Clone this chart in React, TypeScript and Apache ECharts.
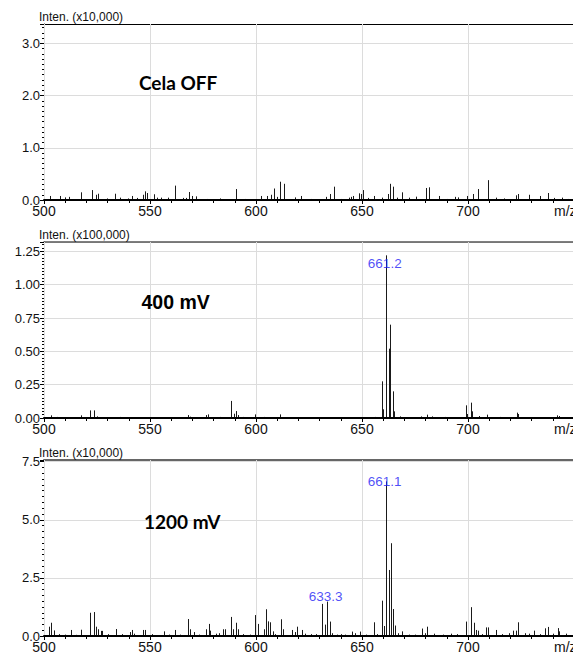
import React, { useEffect, useRef } from "react";
import * as echarts from "echarts";

// m/z range shared by all three spectra
const MZ_MIN = 500;
const MZ_MAX = 750;
const MZ_TICKS = [500, 550, 600, 650, 700];

// Spectrum 1: Cela OFF, intensity in units of 10,000
const celaOffPeaks: [number, number][] = [
  [502.7, 0.077], [507.7, 0.077], [510.1, 0.05], [511.7, 0.06], [517.6, 0.147],
  [522.7, 0.19], [524.7, 0.1], [525.5, 0.12], [529.9, 0.03], [533.7, 0.12],
  [536.0, 0.045], [539.7, 0.03], [541.7, 0.077], [544.0, 0.04], [546.7, 0.1],
  [547.5, 0.166], [548.8, 0.134], [551.9, 0.11], [553.3, 0.045], [555.4, 0.045],
  [558.5, 0.045], [561.7, 0.275], [565.6, 0.04], [567.2, 0.04], [568.6, 0.153],
  [569.6, 0.077], [571.6, 0.07], [577.0, 0.02], [583.0, 0.03], [590.8, 0.21],
  [595.0, 0.02], [602.3, 0.077], [605.0, 0.077], [607.3, 0.1], [608.7, 0.22],
  [610.1, 0.06], [611.5, 0.35], [613.1, 0.31], [618.3, 0.05], [621.3, 0.077],
  [626.0, 0.02], [632.8, 0.06], [634.7, 0.115], [636.7, 0.255], [640.0, 0.02],
  [643.8, 0.045], [644.6, 0.06], [645.7, 0.077], [648.8, 0.128], [649.6, 0.115],
  [650.6, 0.19], [652.8, 0.04], [655.5, 0.077], [659.4, 0.045], [662.3, 0.115],
  [663.4, 0.31], [664.5, 0.255], [666.5, 0.045], [668.9, 0.147], [672.4, 0.045],
  [675.5, 0.064], [680.4, 0.23], [681.5, 0.243], [686.5, 0.077], [690.0, 0.02],
  [693.9, 0.06], [695.1, 0.05], [699.4, 0.077], [702.4, 0.115], [704.6, 0.21],
  [709.4, 0.38], [713.2, 0.045], [717.0, 0.03], [722.6, 0.09], [723.4, 0.115],
  [728.9, 0.1], [734.1, 0.077], [737.5, 0.134], [740.5, 0.04], [744.3, 0.045],
  [747.0, 0.02],
];

// Spectrum 2: 400 mV, intensity in units of 100,000
const mv400Peaks: [number, number][] = [
  [503.5, 0.02], [506.0, 0.008], [511.0, 0.006], [517.6, 0.02], [521.6, 0.057],
  [523.6, 0.057], [524.8, 0.012], [530.0, 0.006], [536.0, 0.008], [544.0, 0.006],
  [553.0, 0.006], [560.0, 0.006], [567.7, 0.022], [568.8, 0.01], [576.2, 0.022],
  [577.4, 0.027], [583.0, 0.008], [588.4, 0.128], [589.5, 0.032], [590.4, 0.052],
  [591.5, 0.022], [594.0, 0.008], [599.7, 0.027], [604.0, 0.008], [611.5, 0.027],
  [618.0, 0.006], [622.0, 0.006], [630.0, 0.005], [640.0, 0.005], [648.0, 0.006],
  [656.0, 0.008], [659.4, 0.275], [660.0, 0.065], [661.2, 1.22], [662.5, 0.52],
  [663.4, 0.7], [664.4, 0.2], [665.3, 0.05], [668.0, 0.012], [677.7, 0.012],
  [680.6, 0.025], [683.0, 0.012], [689.0, 0.008], [699.1, 0.095], [699.7, 0.03],
  [701.4, 0.115], [702.0, 0.05], [705.0, 0.015], [709.0, 0.025], [715.0, 0.008],
  [723.1, 0.04], [723.8, 0.03], [730.0, 0.006], [741.8, 0.02], [743.0, 0.015],
];

// Spectrum 3: 1200 mV, intensity in units of 10,000
const mv1200Peaks: [number, number][] = [
  [502.4, 0.4], [503.5, 0.57], [504.6, 0.24], [507.0, 0.08], [510.0, 0.06],
  [512.6, 0.26], [515.0, 0.05], [517.6, 0.27], [521.6, 1.0], [523.5, 1.03],
  [524.7, 0.4], [525.7, 0.29], [526.8, 0.22], [527.4, 0.22], [530.0, 0.08],
  [533.8, 0.3], [537.0, 0.08], [540.8, 0.17], [541.5, 0.26], [542.5, 0.1],
  [546.7, 0.26], [547.7, 0.26], [551.0, 0.08], [556.5, 0.2], [559.0, 0.06],
  [561.7, 0.26], [564.0, 0.06], [567.7, 0.73], [569.1, 0.29], [570.8, 0.17],
  [573.0, 0.06], [576.2, 0.29], [577.6, 0.52], [578.5, 0.23], [581.0, 0.1],
  [582.5, 0.12], [584.2, 0.29], [585.6, 0.29], [588.3, 0.82], [589.2, 0.29],
  [590.6, 0.57], [591.7, 0.29], [594.0, 0.08], [597.0, 0.06], [599.6, 0.9],
  [600.9, 0.52], [603.6, 0.29], [604.7, 1.15], [605.8, 0.63], [606.6, 0.59],
  [607.8, 0.2], [609.0, 0.08], [611.6, 0.72], [612.5, 0.29], [616.8, 0.26],
  [618.3, 0.17], [619.3, 0.4], [621.5, 0.26], [623.0, 0.1], [626.0, 0.08],
  [628.5, 0.08], [631.3, 1.38], [632.4, 0.49], [633.3, 1.48], [634.9, 0.62],
  [636.0, 0.12], [638.0, 0.06], [640.0, 0.08], [642.0, 0.06], [645.3, 0.19],
  [646.8, 0.12], [648.9, 0.19], [652.0, 0.06], [655.5, 0.59], [657.0, 0.08],
  [659.4, 1.52], [660.5, 0.43], [661.1, 6.65], [662.5, 2.84], [663.6, 3.99],
  [664.5, 1.16], [665.5, 0.45], [667.0, 0.12], [668.7, 0.2], [672.0, 0.06],
  [675.0, 0.06], [678.4, 0.32], [679.5, 0.12], [680.8, 0.4], [684.0, 0.1],
  [688.0, 0.06], [692.0, 0.1], [695.0, 0.08], [699.1, 0.62], [700.0, 0.32],
  [701.5, 1.24], [702.6, 0.57], [703.7, 0.26], [704.6, 0.23], [706.5, 0.08],
  [708.7, 0.37], [709.4, 0.37], [713.4, 0.26], [716.0, 0.08], [719.5, 0.12],
  [721.4, 0.23], [722.6, 0.23], [723.5, 0.59], [727.0, 0.12], [729.0, 0.1],
  [731.1, 0.23], [734.0, 0.08], [736.5, 0.33], [737.6, 0.39], [740.0, 0.1],
  [742.3, 0.34], [742.9, 0.2], [746.0, 0.1],
];

// Annotated peaks (m/z labels) per spectrum
const mv400Labels: [number, number][] = [[661.2, 1.22]];
const mv1200Labels: [number, number][] = [[633.3, 1.48], [661.1, 6.65]];

const panelNames = ["Cela OFF", "400 mV", "1200 mV"];
const intensityUnits = ["Inten. (x10,000)", "Inten. (x100,000)", "Inten. (x10,000)"];

// layout of the three stacked plots
const PLOT_LEFT = 44;
const PLOT_WIDTH = 530;
const PLOT_TOPS = [24, 242, 460];
const PLOT_HEIGHT = 176;

const panels = [
  { peaks: celaOffPeaks, labels: [] as [number, number][], max: 3.37, major: 1, minor: 0.1, digits: 1, border: "#000", borderW: 1 },
  { peaks: mv400Peaks, labels: mv400Labels, max: 1.32, major: 0.25, minor: 0.025, digits: 2, border: "#555", borderW: 1.5 },
  { peaks: mv1200Peaks, labels: mv1200Labels, max: 7.57, major: 2.5, minor: 0.25, digits: 1, border: "#666", borderW: 2 },
];

const labelOffsets: Record<string, [number, number]> = {
  "661.2": [-1, 8],
  "633.3": [-1, -5],
  "661.1": [-1, 0],
};

const FONT = "Liberation Sans, Arial, sans-serif";

function isMultiple(v: number, step: number) {
  const r = v / step;
  return Math.abs(r - Math.round(r)) < 1e-6;
}

export default function App() {
  const ref = useRef<HTMLDivElement>(null);

  useEffect(() => {
    if (!ref.current) return;
    const chart = echarts.init(ref.current, undefined, { renderer: "svg" });

    const grids = panels.map((_, i) => ({
      left: PLOT_LEFT,
      top: PLOT_TOPS[i],
      width: PLOT_WIDTH,
      height: PLOT_HEIGHT,
      containLabel: false,
      outerBoundsMode: "none",
    }));

    const bottomX = panels.map((_, i) => ({
      type: "value",
      gridIndex: i,
      min: MZ_MIN,
      max: MZ_MAX,
      interval: 50,
      position: "bottom",
      axisLine: { show: true, onZero: false, lineStyle: { color: "#000", width: 2 } },
      axisTick: { show: true, length: 4, lineStyle: { color: "#000", width: 1 } },
      minorTick: { show: true, splitNumber: 5, length: 3, lineStyle: { color: "#000", width: 1 } },
      axisLabel: {
        fontSize: 14,
        fontFamily: FONT,
        color: "#111",
        margin: 4,
        formatter: (v: number) => (MZ_TICKS.includes(v) ? String(v) : ""),
      },
      splitLine: { show: true, lineStyle: { color: "#dcdcdc", width: 1 } },
      z: 5,
    }));

    const topX = panels.map((p, i) => ({
      type: "value",
      gridIndex: i,
      min: MZ_MIN,
      max: MZ_MAX,
      position: "top",
      axisLine: { show: true, onZero: false, lineStyle: { color: p.border, width: p.borderW } },
      axisTick: { show: false },
      axisLabel: { show: false },
      splitLine: { show: false },
    }));

    const majorY = panels.map((p, i) => ({
      type: "value",
      gridIndex: i,
      min: 0,
      max: p.max,
      interval: p.major,
      axisLine: { show: true, lineStyle: { color: "#000", width: 1 } },
      axisTick: { show: true, length: 4, lineStyle: { color: "#000" } },
      axisLabel: {
        fontSize: 13,
        fontFamily: FONT,
        color: "#111",
        margin: 4,
        formatter: (v: number) => (isMultiple(v, p.major) ? v.toFixed(p.digits) : ""),
      },
      splitLine: { show: true, lineStyle: { color: "#dcdcdc", width: 1 } },
    }));

    const minorY = panels.map((p, i) => ({
      type: "value",
      gridIndex: i,
      min: 0,
      max: p.max,
      interval: p.minor,
      position: "left",
      axisLine: { show: false },
      axisTick: { show: true, length: 2, lineStyle: { color: "#000" } },
      axisLabel: { show: false },
      splitLine: { show: false },
    }));

    const peakSeries = panels.map((p, i) => ({
      type: "custom",
      xAxisIndex: i,
      yAxisIndex: i,
      data: p.peaks,
      encode: { x: 0, y: 1 },
      clip: true,
      z: 3,
      renderItem: (_params: any, api: any) => {
        const mz = api.value(0);
        const inten = api.value(1);
        const top = api.coord([mz, inten]);
        const base = api.coord([mz, 0]);
        const x = Math.round(top[0]) + 0.5;
        return {
          type: "line",
          shape: { x1: x, y1: top[1], x2: x, y2: base[1] },
          style: { stroke: "#1a1a1a", lineWidth: 1 },
        };
      },
    }));

    const labelSeries = panels.map((p, i) => ({
      type: "scatter",
      xAxisIndex: i,
      yAxisIndex: i,
      data: p.labels,
      symbolSize: 0,
      silent: true,
      z: 6,
      label: {
        show: true,
        position: "inside",
        fontSize: 13.5,
        fontFamily: FONT,
        color: "#1e1ef5",
        formatter: (d: any) => d.value[0].toFixed(1),
      },
      labelLayout: (params: any) => {
        const key = String(params.text);
        const off = labelOffsets[key] || [0, 0];
        return { dx: off[0], dy: off[1] };
      },
    }));

    const unitTexts = [17.3, 235, 452.7].map((y, i) => ({
      type: "text",
      x: 39,
      y,
      z: 100,
      silent: true,
      style: {
        text: intensityUnits[i],
        fontSize: 12,
        fontFamily: FONT,
        fill: "#111",
        align: "left",
        verticalAlign: "middle",
      },
    }));

    const mzTexts = [211, 429.3, 647.3].map((y) => ({
      type: "text",
      x: 554,
      y,
      z: 100,
      silent: true,
      style: {
        text: "m/z",
        fontSize: 14,
        fontFamily: FONT,
        fill: "#111",
        align: "left",
        verticalAlign: "middle",
      },
    }));

    const nameFonts = ["Lato, sans-serif", FONT, "Lato, sans-serif"];
    const nameSizes = [19, 19.5, 19];
    const namePos: [number, number][] = [[139, 82], [141.5, 301.7], [144, 521]];
    const nameTexts = panelNames.map((t, i) => ({
      type: "text",
      x: namePos[i][0],
      y: namePos[i][1],
      z: 100,
      silent: true,
      style: {
        text: t,
        fontSize: nameSizes[i],
        fontWeight: "bold",
        fontFamily: nameFonts[i],
        fill: "#000",
        align: "left",
        verticalAlign: "middle",
      },
    }));

    chart.setOption({
      animation: false,
      backgroundColor: "#fff",
      grid: grids,
      xAxis: [...bottomX, ...topX],
      yAxis: [...majorY, ...minorY],
      series: [...peakSeries, ...labelSeries],
      graphic: [...unitTexts, ...mzTexts, ...nameTexts],
    } as any);

    return () => chart.dispose();
  }, []);

  return (
    <div
      ref={ref}
      style={{ position: "fixed", left: 0, top: 0, width: 573, height: 652, background: "#fff" }}
    />
  );
}
